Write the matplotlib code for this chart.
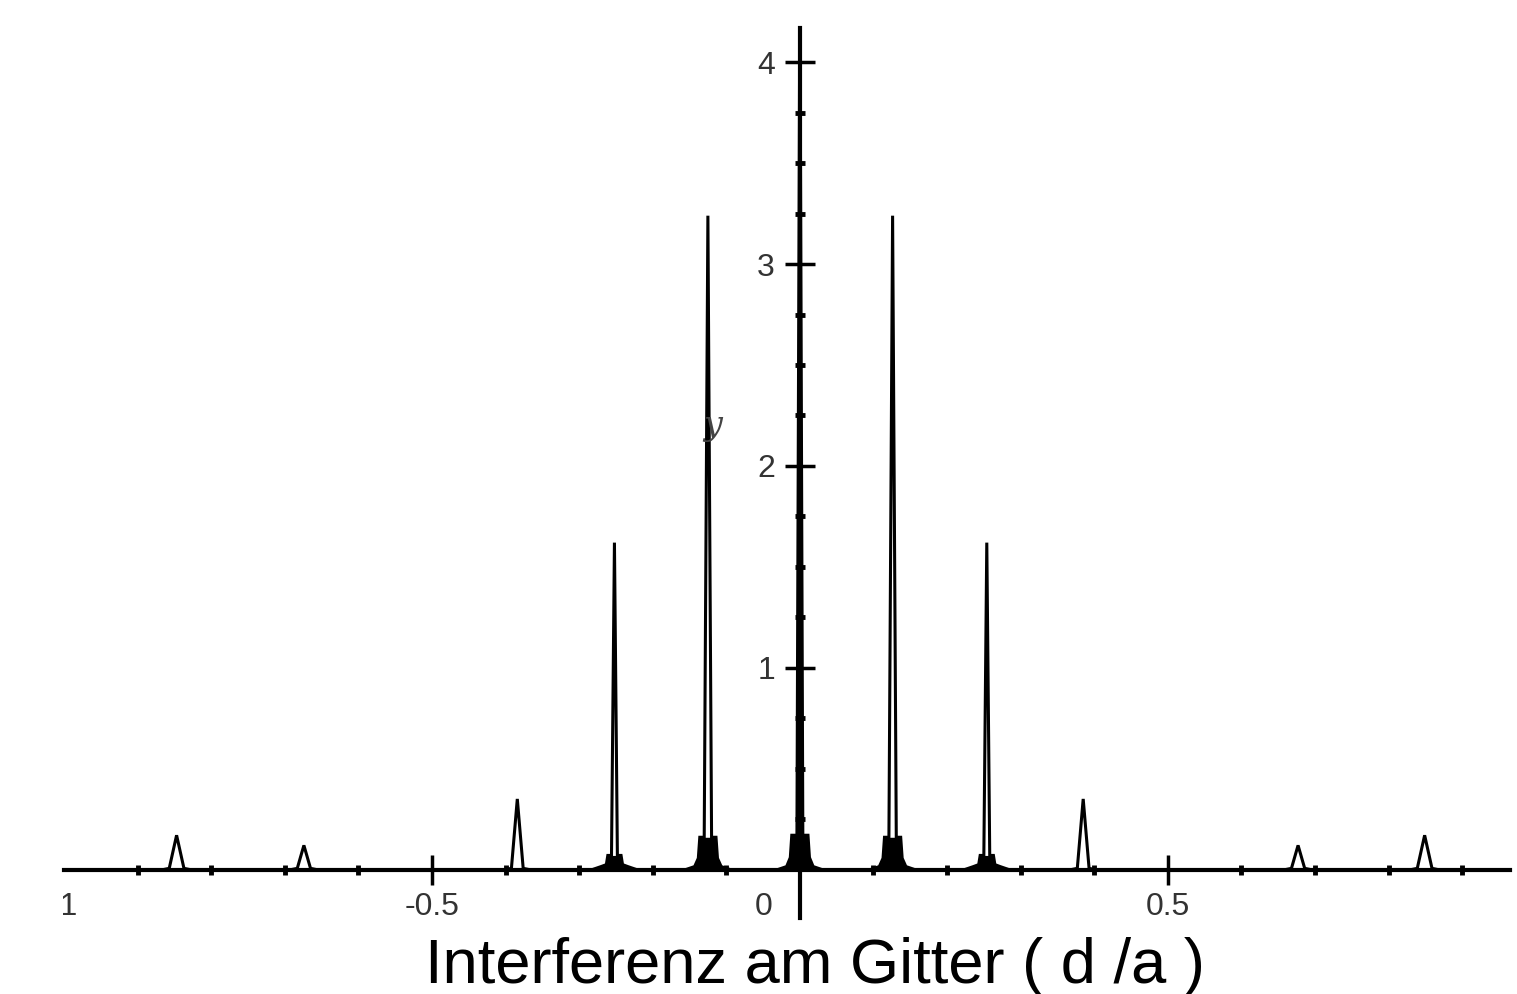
import matplotlib
matplotlib.use('Agg')
import matplotlib.pyplot as plt
import numpy as np
from matplotlib.transforms import Bbox, TransformedBbox, ScaledTranslation

# principal maxima of the grating pattern: position, height, height of the side-lobe shoulder
peak_x = [-0.847, -0.674, -0.384, -0.252, -0.125, 0.0, 0.126, 0.254, 0.385, 0.677, 0.849]
peak_y = [0.17, 0.12, 0.35, 1.62, 3.24, 4.40, 3.24, 1.62, 0.35, 0.12, 0.17]
shoulder_y = [0.0, 0.0, 0.0, 0.07, 0.16, 0.17, 0.16, 0.07, 0.0, 0.0, 0.0]
peak_hw = [0.008, 0.007, 0.006, 0.004, 0.005, 0.004, 0.005, 0.004, 0.006, 0.007, 0.008]

x_range = (-1.0, 0.965)
y_range = (-0.24, 4.17)
xtick_pos = [-1, -0.5, 0, 0.5]
xtick_lab = ['-1', '-0.5', '0', '0.5']
ytick_pos = [1, 2, 3, 4]
ytick_lab = ['1', '2', '3', '4']

plt.rcParams['font.family'] = ['Liberation Sans', 'DejaVu Sans']

# build the intensity trace peak by peak
xs = [x_range[0]]
ys = [0.0]
lobes = []
for c, h, s, w in zip(peak_x, peak_y, shoulder_y, peak_hw):
    if s > 0:
        sw = 0.011 if s > 0.1 else 0.009
        left = [(c - 0.03, 0), (c - 0.018, 0.015), (c - sw - 0.002, s * 0.35),
                (c - sw, s), (c - w, s)]
    else:
        left = [(c - w - 0.01, 0), (c - w - 0.002, 0.006)]
    seg = list(left) + [(c, h)] + [(2 * c - px, py) for px, py in reversed(left)]
    for px, py in seg:
        xs.append(px); ys.append(py)
    if s > 0:
        lobes.append(([p[0] for p in seg], [min(p[1], s) for p in seg]))
xs.append(x_range[1])
ys.append(0.0)

W, H = 1517, 994
fig = plt.figure(figsize=(W / 100, H / 100), dpi=100)
ax = fig.add_axes([64 / W, 1 - 918 / H, (1510 - 64) / W, (918 - 28) / H])

# side lobes crowd together at the foot of each maximum
for lx, ly in lobes:
    ax.fill_between(lx, 0, ly, color='black', lw=0)
ax.plot(xs, ys, color='black', lw=2.2, solid_joinstyle='miter')

ax.set_xlim(*x_range)
ax.set_ylim(*y_range)
for side in ['top', 'right']:
    ax.spines[side].set_visible(False)
ax.spines['left'].set_position(('data', 0))
ax.spines['bottom'].set_position(('data', 0))
ax.spines['left'].set_linewidth(3)
ax.spines['bottom'].set_linewidth(3)

ax.set_xticks(xtick_pos)
ax.set_xticklabels(xtick_lab)
ax.set_yticks(ytick_pos)
ax.set_yticklabels(ytick_lab)
ax.set_xticks(np.arange(-0.9, 0.95, 0.1), minor=True)
ax.set_yticks(np.arange(0.25, 4.1, 0.25), minor=True)
ax.tick_params(which='major', direction='inout', length=22, width=2.5,
               labelsize=23, labelcolor='#333333')
ax.tick_params(which='minor', direction='inout', length=7, width=3.5)
ax.tick_params(axis='x', which='major', pad=5)
ax.tick_params(axis='y', which='major', pad=7)

for tick, pos in zip(ax.xaxis.get_major_ticks(), xtick_pos):
    if pos in (-1, 0):
        tick.tick1line.set_visible(False)
    if pos == 0:
        tick.label1.set_transform(tick.label1.get_transform() +
                                  ScaledTranslation(-0.36, 0, fig.dpi_scale_trans))
    if pos == -1:
        tick.label1.set_clip_box(TransformedBbox(Bbox([[63 / W, 0], [1, 1]]), fig.transFigure))
        tick.label1.set_clip_on(True)

ax.text(-0.118, 2.2, 'y', fontsize=24, style='italic', family='DejaVu Serif',
        color='#444444', ha='center', va='center')

fig.text(815 / W, 1 - 966 / H, 'Interferenz am Gitter ( d /a )', fontsize=45.5,
         ha='center', va='center')

fig.savefig('out.png', dpi=100)
